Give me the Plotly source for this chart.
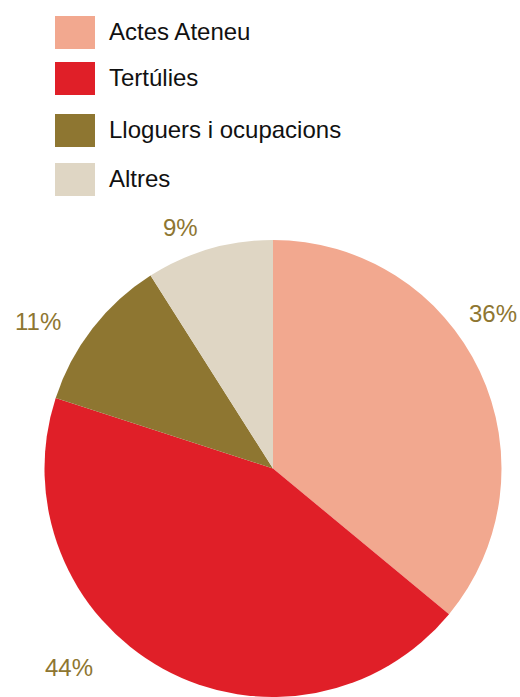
import plotly.graph_objects as go

categories = ['Actes Ateneu', 'Tertúlies', 'Lloguers i ocupacions', 'Altres']
values = [36, 44, 11, 9]
colors = ['#F2A88F', '#E01F28', '#8E7631', '#DFD6C4']
pct_labels = ['36%', '44%', '11%', '9%']

W, H = 520, 697
FONT = 'Liberation Sans, Arial, Helvetica, sans-serif'
TXT_COL = '#8E7631'

fig = go.Figure()
fig.add_trace(go.Pie(labels=categories, values=values, sort=False,
                     direction='clockwise', rotation=0,
                     marker=dict(colors=colors, line=dict(width=0)),
                     textinfo='none', hoverinfo='label+percent',
                     showlegend=False,
                     domain=dict(x=[43 / W, 503 / W], y=[0, (H - 240) / H])))

# hand-drawn legend with large swatches
legend_tops = [16, 62, 114, 163]
for cat, col, top in zip(categories, colors, legend_tops):
    fig.add_shape(type='rect', xref='paper', yref='paper',
                  x0=55 / W, x1=95 / W, y0=1 - top / H, y1=1 - (top + 33) / H,
                  fillcolor=col, line=dict(width=0))
    fig.add_annotation(text=cat, xref='paper', yref='paper',
                       x=107 / W, y=1 - (top + 15.5) / H,
                       xanchor='left', yanchor='middle', showarrow=False,
                       font=dict(family=FONT, size=24, color='#111111'))

# percentage labels around the pie
label_pos = [(493, 313), (69, 667), (38, 322), (180, 227)]
for txt, (px, py) in zip(pct_labels, label_pos):
    fig.add_annotation(text=txt, xref='paper', yref='paper',
                       x=px / W, y=1 - py / H,
                       xanchor='center', yanchor='middle', showarrow=False,
                       font=dict(family=FONT, size=24, color=TXT_COL))

fig.update_layout(width=W, height=H, margin=dict(l=0, r=0, t=0, b=0),
                  paper_bgcolor='white', plot_bgcolor='white')
# drop the default 8px page margin so the figure sits at the window corner
fig.write_html('out.html', config={'displayModeBar': False},
               post_script="document.body.style.margin='0';")
